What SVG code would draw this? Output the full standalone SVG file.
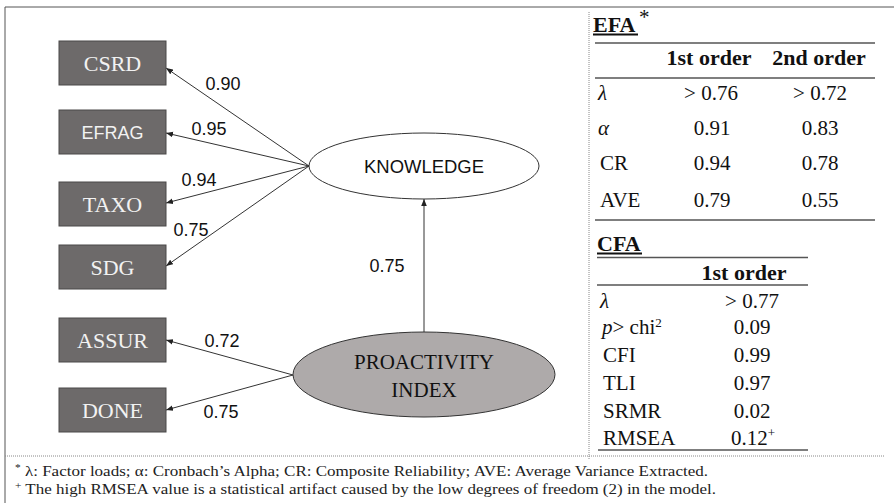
<svg xmlns="http://www.w3.org/2000/svg" width="894" height="503" viewBox="0 0 894 503">
<defs>
<marker id="ah" viewBox="0 0 10 10" refX="10" refY="5" markerWidth="7" markerHeight="7" markerUnits="userSpaceOnUse" orient="auto">
<path d="M0,1 L10,5 L0,9 z" fill="#222"/>
</marker>
<style>
.box{fill:#6d6a6a;stroke:#4a4848;stroke-width:1}
.bt{font-family:'Liberation Serif','Times New Roman',serif;font-size:22px;fill:#f2f2f2;text-anchor:middle}
.bs{font-family:'Liberation Sans',Arial,sans-serif;font-size:18px;fill:#f2f2f2;text-anchor:middle}
.num{font-family:'Liberation Sans',Arial,sans-serif;font-size:18px;fill:#111;text-anchor:middle}
.edge{stroke:#333;stroke-width:1;fill:none;marker-end:url(#ah)}
.tb{font-family:'Liberation Serif','Times New Roman',serif;font-size:21px;fill:#111}
.tbb{font-family:'Liberation Serif','Times New Roman',serif;font-size:22px;font-weight:bold;fill:#111}
.mid{text-anchor:middle}
.rule{stroke:#555;stroke-width:1.5}
.fn{font-family:'Liberation Serif','Times New Roman',serif;font-size:15px;fill:#222}
</style>
</defs>
<rect width="894" height="503" fill="#fff"/>
<g id="frame">
<line x1="5" y1="7" x2="894" y2="7" stroke="#555" stroke-width="1"/>
<line x1="5" y1="7" x2="5" y2="503" stroke="#555" stroke-width="1"/>
<line x1="5" y1="456" x2="884" y2="456" stroke="#888" stroke-width="1" stroke-dasharray="1 1"/>
<line x1="589" y1="12" x2="589" y2="460" stroke="#888" stroke-width="1" stroke-dasharray="1 1"/>
</g>
<g id="connectors">
<line class="edge" x1="309" y1="166" x2="166" y2="68"/>
<line class="edge" x1="309" y1="166" x2="166" y2="133"/>
<line class="edge" x1="309" y1="166" x2="166" y2="203"/>
<line class="edge" x1="309" y1="166" x2="166" y2="266"/>
<line class="edge" x1="293" y1="375" x2="166" y2="340"/>
<line class="edge" x1="293" y1="375" x2="166" y2="410"/>
<line class="edge" x1="424" y1="332" x2="424" y2="199"/>
<text class="num" x="223" y="90">0.90</text>
<text class="num" x="209" y="135">0.95</text>
<text class="num" x="199" y="186">0.94</text>
<text class="num" x="191" y="236">0.75</text>
<text class="num" x="387" y="272">0.75</text>
<text class="num" x="222" y="347">0.72</text>
<text class="num" x="221" y="418">0.75</text>
</g>
<g id="csrd"><rect class="box" x="59" y="41" width="107" height="44"/><text class="bt" x="112.5" y="71">CSRD</text></g>
<g id="efrag"><rect class="box" x="59" y="110" width="107" height="44"/><text class="bs" x="112.5" y="138.5">EFRAG</text></g>
<g id="taxo"><rect class="box" x="59" y="182" width="107" height="44"/><text class="bt" x="112.5" y="212">TAXO</text></g>
<g id="sdg"><rect class="box" x="59" y="245" width="107" height="44"/><text class="bt" x="112.5" y="275">SDG</text></g>
<g id="assur"><rect class="box" x="59" y="318" width="107" height="44"/><text class="bt" x="112.5" y="348">ASSUR</text></g>
<g id="done"><rect class="box" x="59" y="388" width="107" height="44"/><text class="bt" x="112.5" y="418">DONE</text></g>
<g id="knowledge">
<ellipse cx="424" cy="166" rx="115" ry="33" fill="#fff" stroke="#333" stroke-width="1"/>
<text class="num" x="424" y="172.5" textLength="120" lengthAdjust="spacingAndGlyphs">KNOWLEDGE</text>
</g>
<g id="proactivity">
<ellipse cx="424" cy="374.5" rx="131" ry="42.5" fill="#aeaaaa" stroke="#333" stroke-width="1"/>
<text class="tb mid" x="424" y="368.5" font-size="22">PROACTIVITY</text>
<text class="tb mid" x="424" y="396.5" font-size="22">INDEX</text>
</g>
<g id="efa-table">
<text class="tbb" x="593" y="32">EFA</text>
<text class="tb" x="639" y="24" font-size="12">*</text>
<line x1="593" y1="34.5" x2="638" y2="34.5" stroke="#111" stroke-width="2"/>
<line class="rule" x1="595" y1="43" x2="875" y2="43"/>
<text class="tbb mid" x="709" y="65">1st order</text>
<text class="tbb mid" x="819" y="65">2nd order</text>
<line class="rule" x1="595" y1="78" x2="875" y2="78"/>
<text class="tb" x="598" y="100" font-style="italic">λ</text>
<text class="tb mid" x="711" y="100">&gt; 0.76</text>
<text class="tb mid" x="820" y="100">&gt; 0.72</text>
<text class="tb" x="598" y="135" font-style="italic">α</text>
<text class="tb mid" x="712" y="135">0.91</text>
<text class="tb mid" x="820" y="135">0.83</text>
<text class="tb" x="600" y="170">CR</text>
<text class="tb mid" x="712" y="170">0.94</text>
<text class="tb mid" x="820" y="170">0.78</text>
<text class="tb" x="600" y="207">AVE</text>
<text class="tb mid" x="712" y="207">0.79</text>
<text class="tb mid" x="820" y="207">0.55</text>
<line class="rule" x1="595" y1="220" x2="875" y2="220"/>
</g>
<g id="cfa-table">
<text class="tbb" x="597" y="251">CFA</text>
<line x1="597" y1="253.5" x2="642" y2="253.5" stroke="#111" stroke-width="2"/>
<line class="rule" x1="597" y1="257.5" x2="808" y2="257.5"/>
<text class="tbb mid" x="744" y="280">1st order</text>
<line class="rule" x1="597" y1="285" x2="808" y2="285"/>
<text class="tb" x="600" y="308" font-style="italic">λ</text>
<text class="tb mid" x="752" y="308">&gt; 0.77</text>
<text class="tb" x="602" y="334"><tspan font-style="italic">p</tspan>&gt; chi<tspan font-size="13" dy="-7">2</tspan></text>
<text class="tb mid" x="752" y="334">0.09</text>
<text class="tb" x="603" y="362">CFI</text>
<text class="tb mid" x="752" y="362">0.99</text>
<text class="tb" x="603" y="390">TLI</text>
<text class="tb mid" x="752" y="390">0.97</text>
<text class="tb" x="603" y="418">SRMR</text>
<text class="tb mid" x="752" y="418">0.02</text>
<text class="tb" x="603" y="445">RMSEA</text>
<text class="tb" x="731" y="445">0.12<tspan font-size="13" dy="-8">+</tspan></text>
<line class="rule" x1="598" y1="450" x2="808" y2="450"/>
</g>
<g id="footnotes">
<text class="fn" x="15" y="476" textLength="693" lengthAdjust="spacingAndGlyphs"><tspan font-size="10" dy="-5">*</tspan><tspan dy="5"> λ: Factor loads; α: Cronbach’s Alpha; CR: Composite Reliability; AVE: Average Variance Extracted.</tspan></text>
<text class="fn" x="15" y="494" textLength="701" lengthAdjust="spacingAndGlyphs"><tspan font-size="10" dy="-5">+</tspan><tspan dy="5"> The high RMSEA value is a statistical artifact caused by the low degrees of freedom (2) in the model.</tspan></text>
</g>
</svg>
